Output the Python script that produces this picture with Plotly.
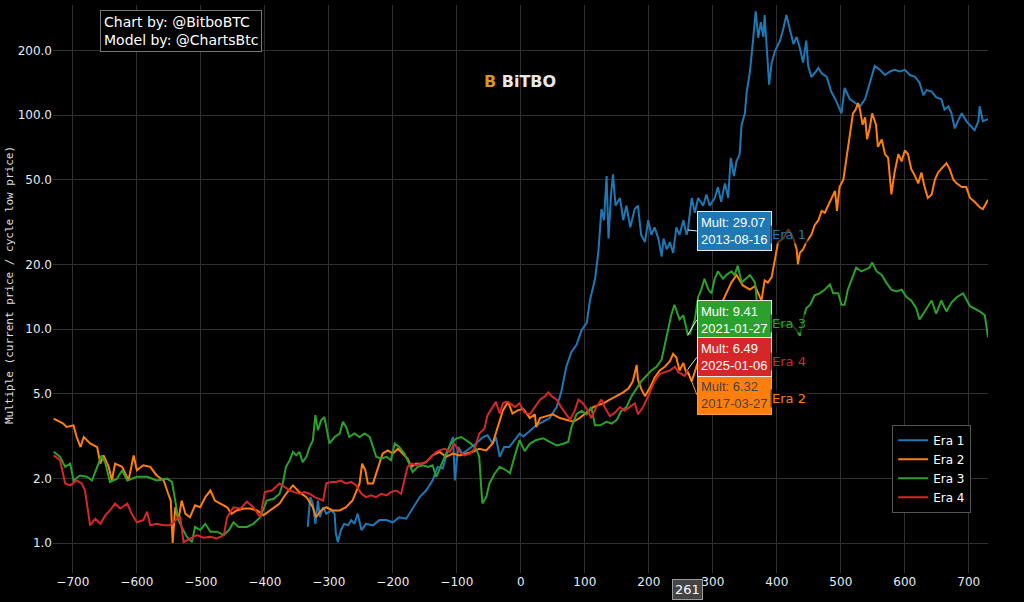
import math
import datetime
import plotly.graph_objects as go

# ---------------- data ----------------
era1_days = [-333, -329, -325, -321, -317, -314, -309, -304, -296, -291, -289, -286, -281, -276, -270, -265, -260, -255, -249, -242,
             -231, -221, -210, -200, -190, -179, -169, -158, -148, -138, -130, -122, -114, -106, -103, -98, -91, -80, -70, -59,
             -52, -44, -39, -33, -26, -18, -10, -2, 4, 14, 24, 35, 45, 56, 63, 71, 79, 87, 95, 103,
             108, 116, 121, 126, 130, 134, 137, 141, 144, 148, 155, 160, 165, 171, 178, 183, 188, 194, 199, 204,
             209, 215, 220, 223, 228, 233, 238, 243, 248, 254, 259, 261, 267, 272, 277, 285, 290, 295, 303, 308,
             313, 319, 324, 328, 333, 337, 342, 345, 350, 353, 358, 363, 367, 371, 375, 379, 381, 385, 388, 392,
             397, 405, 410, 415, 420, 426, 431, 436, 441, 446, 449, 454, 459, 465, 470, 478, 485, 493, 501, 506,
             514, 522, 530, 538, 545, 553, 561, 569, 577, 584, 592, 600, 608, 616, 623, 629, 634, 642, 649, 657,
             662, 668, 673, 678, 683, 689, 696, 704, 709, 715, 717, 722, 730]
era1_mult = [1.19, 1.64, 1.53, 1.23, 1.58, 1.32, 1.47, 1.37, 1.42, 1.37, 1.11, 1.01, 1.15, 1.23, 1.21, 1.28, 1.23, 1.37, 1.15, 1.23,
             1.21, 1.28, 1.28, 1.25, 1.32, 1.30, 1.45, 1.64, 1.76, 1.96, 2.27, 2.23, 2.71, 3.13, 1.96, 2.81, 2.62, 2.76, 2.92, 3.13,
             3.19, 2.92, 3.13, 2.53, 2.81, 2.81, 3.02, 3.25, 3.15, 3.35, 3.55, 3.69, 3.84, 4.32, 5.06, 6.67, 7.81, 8.45, 9.90, 10.7,
             13.6, 17.2, 22.7, 36.4, 32.3, 51.9, 26.5, 42.6, 52.9, 37.8, 41.0, 32.3, 37.8, 29.9, 36.4, 37.8, 27.6, 25.5, 32.3, 27.6,
             29.9, 26.5, 21.8, 26.5, 23.6, 25.5, 22.7, 29.9, 27.6, 32.3, 27.6, 29.07, 41.0, 35.0, 41.0, 37.8, 42.6, 37.8, 41.0, 46.1,
             39.4, 48.0, 41.0, 63.2, 51.9, 60.8, 65.8, 90.2, 101.6, 128.6, 160.0, 226.0, 306.0, 230.0, 272.0, 232.0, 294.0, 191.0, 139.0, 176.0,
             199.0, 223.0, 252.0, 294.0, 252.0, 215.0, 232.0, 206.0, 176.0, 223.0, 170.0, 151.0, 157.0, 166.0, 157.0, 151.0, 129.0, 116.0, 102.0, 134.0,
             119.0, 114.0, 110.0, 119.0, 139.0, 170.0, 163.0, 154.0, 160.0, 163.0, 160.0, 163.0, 154.0, 151.0, 142.0, 124.0, 131.0, 129.0, 121.0, 119.0,
             106.0, 110.0, 102.0, 86.7, 93.8, 102.0, 93.8, 88.5, 85.0, 93.8, 110.0, 93.8, 95.7]

era2_days = [-730, -715, -710, -699, -694, -688, -683, -673, -662, -657, -652, -644, -639, -634, -623, -613, -605, -600, -590, -579,
             -569, -558, -551, -547, -544, -540, -535, -530, -524, -517, -509, -501, -493, -485, -478, -470, -459, -452, -444, -433,
             -423, -412, -402, -392, -377, -367, -356, -346, -335, -325, -320, -312, -304, -294, -283, -273, -263, -252, -248, -243,
             -239, -231, -223, -216, -208, -200, -192, -184, -177, -171, -164, -156, -148, -138, -127, -117, -106, -96, -85, -75,
             -65, -54, -44, -36, -28, -20, -13, -5, 4, 14, 22, 24, 30, 40, 50, 61, 71, 82, 92, 103,
             113, 121, 129, 139, 150, 160, 168, 175, 181, 183, 188, 194, 201, 209, 217, 225, 233, 238, 243, 248,
             254, 259, 261, 267, 280, 295, 310, 321, 329, 337, 347, 358, 366, 371, 376, 381, 386, 392, 397, 402,
             410, 418, 426, 431, 433, 436, 441, 446, 454, 459, 465, 470, 475, 483, 491, 494, 498, 504, 509, 514,
             519, 523, 527, 530, 534, 538, 541, 545, 549, 555, 558, 564, 569, 574, 579, 584, 590, 595, 600, 605,
             610, 616, 621, 626, 631, 636, 642, 647, 652, 657, 665, 670, 676, 681, 689, 696, 702, 709, 717, 722, 730]
era2_mult = [3.82, 3.62, 3.49, 3.55, 3.13, 2.81, 3.13, 2.92, 2.81, 2.35, 2.57, 2.27, 1.96, 2.35, 2.27, 1.96, 2.57, 2.19, 2.31, 2.27,
             2.07, 1.96, 1.70, 1.58, 1.00, 1.47, 1.28, 1.58, 1.37, 1.32, 1.50, 1.47, 1.64, 1.76, 1.58, 1.53, 1.47, 1.37, 1.42, 1.45,
             1.45, 1.42, 1.35, 1.42, 1.53, 1.70, 1.86, 1.73, 1.64, 1.47, 1.32, 1.42, 1.47, 1.42, 1.42, 1.47, 1.58, 1.90, 2.35, 2.19,
             1.90, 1.90, 2.27, 2.62, 2.71, 2.62, 2.76, 2.62, 2.48, 2.27, 2.35, 2.35, 2.39, 2.57, 2.67, 2.53, 2.62, 2.57, 2.62, 2.67,
             2.76, 2.71, 2.92, 3.49, 4.17, 4.57, 4.03, 4.17, 4.24, 3.84, 4.00, 3.48, 3.84, 3.92, 4.00, 3.84, 3.77, 3.69, 3.84, 4.07,
             4.32, 4.41, 4.50, 4.68, 4.86, 5.06, 5.27, 5.70, 6.80, 5.81, 5.27, 4.86, 5.27, 5.93, 6.41, 6.67, 7.08, 7.66, 7.36, 6.41,
             6.94, 6.17, 6.32, 5.70, 7.5, 10.0, 12.5, 14.7, 16.5, 17.9, 16.0, 15.3, 15.9, 14.7, 13.6, 16.9, 16.5, 17.5, 20.9, 25.5,
             26.5, 29.3, 26.5, 23.6, 20.1, 22.7, 23.6, 25.5, 27.6, 30.5, 32.3, 35.7, 35.0, 39.4, 44.3, 35.7, 46.1, 49.9, 63.2, 83.4,
             102.0, 106.0, 114.0, 106.0, 90.2, 97.6, 77.1, 86.7, 102.0, 90.2, 71.1, 77.1, 65.8, 63.2, 42.6, 54.0, 65.8, 60.8, 68.4, 65.8,
             56.1, 51.9, 48.0, 54.0, 46.1, 41.0, 42.6, 49.9, 54.0, 56.1, 59.6, 56.1, 49.9, 48.0, 46.1, 46.1, 41.0, 39.4, 37.1, 36.4, 40.2]

era3_days = [-730, -720, -712, -704, -699, -689, -678, -670, -662, -655, -649, -642, -631, -623, -615, -600, -584, -569, -553, -545,
             -540, -535, -530, -522, -514, -509, -501, -493, -485, -475, -464, -456, -449, -441, -428, -418, -407, -397, -386, -377,
             -372, -367, -361, -356, -351, -346, -341, -335, -330, -325, -321, -317, -312, -307, -302, -299, -291, -283, -278, -273,
             -268, -260, -252, -244, -236, -231, -226, -218, -210, -203, -197, -190, -182, -177, -169, -161, -153, -145, -138, -132,
             -124, -117, -109, -101, -93, -85, -78, -70, -65, -62, -60, -54, -49, -41, -33, -23, -17, -9, -2, 6,
             14, 24, 35, 45, 56, 66, 74, 79, 87, 95, 103, 110, 116, 124, 134, 142, 150, 157, 165, 173,
             181, 188, 196, 204, 212, 220, 225, 230, 235, 240, 243, 248, 254, 259, 261, 264, 272, 277, 282, 287,
             293, 298, 303, 308, 316, 321, 329, 334, 339, 345, 352, 358, 366, 371, 379, 389, 399, 410, 420, 431,
             436, 441, 446, 452, 459, 467, 475, 483, 488, 496, 501, 506, 511, 517, 524, 532, 540, 545, 549, 556,
             564, 571, 579, 587, 595, 603, 610, 618, 623, 631, 642, 649, 657, 665, 673, 681, 691, 702, 709, 717, 725, 730]
era3_mult = [2.67, 2.53, 2.27, 2.35, 1.96, 2.07, 2.04, 1.96, 2.27, 2.57, 2.35, 1.93, 2.00, 2.19, 1.96, 2.04, 2.04, 1.96, 2.00, 1.93,
             1.58, 1.28, 1.19, 1.07, 1.01, 1.19, 1.15, 1.23, 1.13, 1.13, 1.09, 1.15, 1.25, 1.19, 1.19, 1.23, 1.32, 1.58, 1.61, 1.70,
             1.90, 2.27, 2.44, 2.67, 2.57, 2.67, 2.39, 2.53, 2.81, 3.02, 3.96, 3.37, 3.75, 3.88, 3.25, 2.92, 3.13, 3.25, 3.69, 3.49,
             3.13, 3.25, 3.13, 3.25, 3.13, 2.81, 2.53, 2.48, 2.53, 2.44, 2.92, 2.81, 2.62, 2.44, 2.15, 2.27, 2.31, 2.27, 2.31, 2.04,
             2.35, 2.62, 2.92, 3.08, 3.13, 3.02, 2.92, 2.76, 2.53, 1.83, 1.53, 1.64, 1.90, 2.11, 2.27, 2.19, 2.12, 2.59, 3.03, 2.69,
             2.91, 3.03, 3.09, 2.97, 2.86, 2.91, 2.97, 3.48, 4.00, 4.15, 4.00, 4.32, 3.55, 3.55, 3.69, 3.62, 3.77, 4.15, 4.32, 4.86,
             5.27, 5.70, 6.04, 6.41, 6.67, 7.21, 8.45, 9.90, 11.6, 13.0, 12.3, 11.1, 11.6, 9.90, 9.41, 9.5, 11.1, 14.1, 15.3, 17.2,
             15.3, 14.7, 17.2, 18.6, 17.2, 17.9, 18.6, 17.9, 19.8, 16.5, 17.2, 17.9, 16.5, 11.6, 11.6, 10.7, 11.1, 10.3, 10.7, 9.9,
             9.3, 11.1, 12.5, 13.0, 14.4, 14.7, 15.3, 16.2, 14.7, 14.7, 13.0, 13.0, 15.3, 17.2, 19.4, 18.6, 19.0, 19.4, 20.5, 18.6,
             17.9, 16.5, 15.3, 15.0, 15.3, 14.1, 13.6, 12.5, 11.1, 12.1, 13.6, 11.8, 13.6, 12.1, 13.3, 14.1, 14.7, 12.8, 12.5, 12.1, 11.6, 9.16]

era4_days = [-730, -720, -712, -704, -694, -686, -681, -675, -673, -665, -657, -649, -642, -634, -626, -615, -608, -600, -590, -584,
             -579, -569, -558, -548, -537, -532, -527, -517, -506, -496, -485, -475, -464, -459, -449, -438, -428, -418, -407, -400,
             -389, -377, -369, -361, -354, -346, -338, -330, -322, -315, -309, -304, -296, -289, -281, -273, -265, -257, -249, -242,
             -234, -226, -218, -210, -203, -195, -187, -182, -177, -171, -164, -156, -148, -140, -132, -127, -119, -111, -104, -96,
             -88, -80, -72, -65, -57, -52, -44, -39, -33, -28, -23, -17, -9, -2, 6, 14, 22, 30, 38, 43,
             48, 56, 63, 71, 77, 84, 90, 97, 105, 110, 118, 126, 131, 139, 147, 155, 162, 170, 178, 183,
             191, 199, 204, 209, 217, 225, 233, 241, 246, 251, 256, 261]
era4_mult = [2.57, 2.44, 1.90, 1.86, 1.96, 1.90, 1.76, 1.32, 1.21, 1.30, 1.23, 1.35, 1.42, 1.53, 1.45, 1.53, 1.37, 1.25, 1.28, 1.40,
             1.21, 1.23, 1.21, 1.21, 1.30, 1.32, 1.01, 1.05, 1.09, 1.06, 1.07, 1.05, 1.09, 1.32, 1.47, 1.45, 1.56, 1.47, 1.32, 1.73,
             1.76, 1.90, 1.83, 1.76, 1.73, 1.70, 1.73, 1.70, 1.64, 1.61, 1.58, 1.90, 1.93, 1.93, 1.96, 1.90, 1.93, 1.86, 1.70, 1.64,
             1.67, 1.64, 1.70, 1.67, 1.73, 1.76, 1.70, 1.96, 2.27, 2.35, 2.31, 2.35, 2.39, 2.53, 2.67, 2.71, 2.76, 2.67, 2.92, 2.67,
             2.57, 2.62, 2.76, 3.25, 3.42, 3.96, 4.32, 4.57, 4.03, 4.50, 4.57, 4.50, 4.32, 4.50, 4.07, 4.00, 4.32, 4.68, 4.86, 5.06,
             4.86, 4.68, 4.32, 4.00, 3.77, 4.15, 4.68, 4.50, 4.15, 3.84, 4.32, 4.68, 4.32, 3.92, 4.07, 4.32, 4.15, 4.32, 4.50, 4.00,
             4.32, 4.86, 5.27, 5.70, 6.17, 6.29, 6.41, 6.67, 6.29, 6.17, 6.04, 6.49]

era_names = ["Era 1", "Era 2", "Era 3", "Era 4"]
era_colors = ["#1f77b4", "#ff7f0e", "#2ca02c", "#d62728"]
halving_dates = ["2012-11-28", "2016-07-09", "2020-05-11", "2024-04-20"]
hover_day = 261
hover_mult = [29.07, 6.32, 9.41, 6.49]

y_tickvals = [1, 2, 5, 10, 20, 50, 100, 200]
x_tickvals = list(range(-700, 701, 100))

series = [(era1_days, era1_mult), (era2_days, era2_mult), (era3_days, era3_mult), (era4_days, era4_mult)]

# ---------------- figure ----------------
fig = go.Figure()
for (d, m), name, col in zip(series, era_names, era_colors):
    fig.add_trace(go.Scatter(x=d, y=m, mode="lines", name=name,
                             line=dict(color=col, width=2)))

TICKFONT = dict(family="DejaVu Sans", size=12, color="#e4ecf4")
GRID = "#303030"

fig.update_layout(
    width=1024, height=602,
    margin=dict(l=53, r=36, t=5, b=29),
    paper_bgcolor="#000000", plot_bgcolor="#000000",
    font=dict(family="DejaVu Sans", size=12, color="#ffffff"),
    showlegend=True,
    legend=dict(x=0.982, xanchor="right", y=0.106, yanchor="bottom",
                bgcolor="#000000", bordercolor="#555555", borderwidth=1,
                font=dict(family="DejaVu Sans", size=12, color="#ffffff")),
    xaxis=dict(range=[-731, 730], tickvals=x_tickvals, showgrid=True, gridcolor=GRID,
               zeroline=False, showline=False, tickfont=TICKFONT, ticks=""),
    yaxis=dict(type="log", range=[-0.140, 2.515], tickvals=y_tickvals, tickformat=".1f",
               showgrid=True, gridcolor=GRID, zeroline=False, showline=False,
               tickfont=TICKFONT, ticks=""),
)

annotations = []
# credits box
annotations.append(dict(xref="paper", yref="paper", x=0.05, y=0.991, xanchor="left", yanchor="top",
                        text="Chart by: @BitboBTC<br>Model by: @ChartsBtc", showarrow=False, align="left",
                        font=dict(family="DejaVu Sans", size=14, color="#ffffff"),
                        bgcolor="#000000", bordercolor="#777777", borderwidth=1, borderpad=3))
# logo
annotations.append(dict(xref="paper", yref="paper", x=0.4995, y=0.866, xanchor="center", yanchor="middle",
                        text="<b><span style='color:#d8981c'>B</span> BiTBO</b>", showarrow=False,
                        font=dict(family="DejaVu Sans", size=16, color="#e8e8e8")))
# axis titles
annotations.append(dict(xref="paper", yref="paper", x=-0.047, y=0.507, xanchor="center", yanchor="middle",
                        text="Multiple (current price / cycle low price)", textangle=-90, showarrow=False,
                        font=dict(family="DejaVu Sans Mono", size=11, color="#e0e0e0")))
annotations.append(dict(xref="paper", yref="paper", x=0.5, y=-0.0455, xanchor="center", yanchor="top",
                        text="Days from halving", showarrow=False,
                        font=dict(family="DejaVu Sans Mono", size=11, color="#e0e0e0")))

# hover-style labels at day 261
box_offsets = [1, 23, -15, -12]   # vertical pixel offset of each label box from its point
for i in range(4):
    date = (datetime.date.fromisoformat(halving_dates[i]) + datetime.timedelta(days=hover_day)).isoformat()
    v = hover_mult[i]
    txtcol = "#444444" if i == 1 else "#ffffff"
    brd = "#ff9a3c" if i == 1 else "#e8e8e8"
    annotations.append(dict(x=hover_day, y=math.log10(v), xref="x", yref="y",
                            text=f"Mult: {v:.2f}<br>{date}", showarrow=True, arrowhead=0,
                            arrowwidth=1, arrowcolor=brd, ax=9, ay=box_offsets[i],
                            xanchor="left", yanchor="middle", align="left",
                            font=dict(family="Liberation Sans", size=13, color=txtcol),
                            bgcolor=era_colors[i], bordercolor=brd, borderwidth=1, borderpad=3))
    annotations.append(dict(x=hover_day, y=math.log10(v), xref="x", yref="y",
                            text=era_names[i], showarrow=False, xanchor="left", yanchor="middle",
                            xshift=82, yshift=-box_offsets[i] - 4,
                            font=dict(family="DejaVu Sans", size=13, color=era_colors[i]),
                            bgcolor="rgba(0,0,0,0.6)", borderpad=1))
# x hover label
annotations.append(dict(x=hover_day, xref="x", yref="paper", y=0, yanchor="top", xanchor="center",
                        yshift=-6, text=str(hover_day), showarrow=False,
                        font=dict(family="DejaVu Sans", size=13, color="#ffffff"),
                        bgcolor="#444444", bordercolor="#9a9a9a", borderwidth=1, borderpad=2))

fig.update_layout(annotations=annotations)
fig.write_html("out.html", config={"displayModeBar": False},
               post_script="document.body.style.margin='0';document.body.style.overflow='hidden';")
